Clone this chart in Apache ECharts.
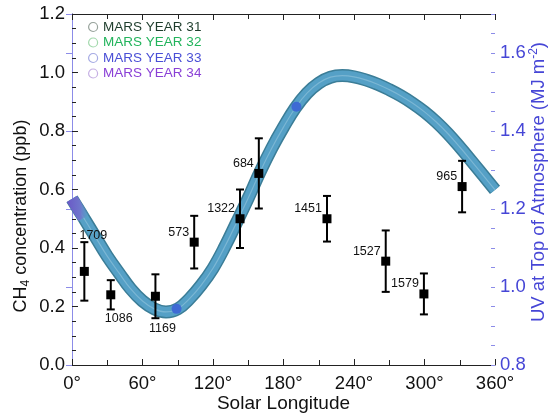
<!DOCTYPE html>
<html><head><meta charset="utf-8">
<script src="https://cdn.jsdelivr.net/npm/echarts@6/dist/echarts.min.js"></script>
<style>html,body{margin:0;padding:0;background:#fff}#c{width:548px;height:416px}</style>
</head><body><div id="c"></div>
<script>
// ---- data ----
const xTicks = [0, 60, 120, 180, 240, 300, 360];
const leftTicks = [0.0, 0.2, 0.4, 0.6, 0.8, 1.0, 1.2];
const rightTicks = [0.8, 1.0, 1.2, 1.4, 1.6];
const legendNames = ['MARS YEAR 31', 'MARS YEAR 32', 'MARS YEAR 33', 'MARS YEAR 34'];

// CH4 measurements (sol labels)
const chLabels = ['1709', '1086', '1169', '573', '1322', '684', '1451', '1527', '1579', '965'];
const chLs  = [10.5, 33, 71, 104, 143, 159, 217, 267, 299.5, 332];
const chVal = [0.32, 0.24, 0.235, 0.42, 0.50, 0.655, 0.50, 0.355, 0.243, 0.61];
const chErr = [0.10, 0.05, 0.075, 0.09, 0.10, 0.12, 0.078, 0.105, 0.07, 0.088];

// UV at top of atmosphere (MJ m^-2)
const uvLs  = [0,10,20,30,40,50,60,70,80,90,100,110,120,130,140,150,160,170,180,190,200,210,220,230,240,250,260,270,280,290,300,310,320,330,340,350,360];
const uvVal = [1.226,1.177,1.128,1.079,1.036,0.995,0.964,0.944,0.936,0.944,0.970,1.005,1.048,1.103,1.165,1.228,1.295,1.356,1.410,1.459,1.497,1.523,1.538,1.542,1.539,1.531,1.520,1.506,1.490,1.471,1.449,1.423,1.393,1.359,1.323,1.286,1.249];
// Mars year 33 highlighted samples
const my33Ls  = [89, 191];
const my33Val = [0.944, 1.462];
// Mars year 34 segment (first part of the curve)
const my34Ls  = uvLs.slice(0, 2);
const my34Val = uvVal.slice(0, 2);

// ---- styles ----
const FONT = 'Liberation Sans, Arial, Helvetica, sans-serif';
const legendColors = {
  'MARS YEAR 31': {icon: '#98a39c', text: '#1e3d2c'},
  'MARS YEAR 32': {icon: '#a3d9ad', text: '#22b45c'},
  'MARS YEAR 33': {icon: '#a6abe4', text: '#4a4fd6'},
  'MARS YEAR 34': {icon: '#c6b0e4', text: '#8a40d6'}
};
// label placement per sol label: [dx, dy, align]
const labelPlace = {
  '1709': [9, -36, 'center'], '1086': [8, 24, 'center'], '1169': [7, 32, 'center']
};

const zip = (a, b) => a.map((v, i) => [v, b[i]]);

const chart = echarts.init(document.getElementById('c'), null, {renderer: 'canvas'});

const option = {
  animation: false,
  backgroundColor: '#fff',
  textStyle: {fontFamily: FONT},
  grid: {left: 72, right: 53, top: 14, bottom: 51, containLabel: false, outerBoundsMode: 'none'},
  legend: {
    orient: 'vertical', left: 88, top: 20, padding: 0,
    itemWidth: 10, itemHeight: 9, itemGap: 1.5,
    selectedMode: false,
    textStyle: {fontSize: 13.5, fontFamily: FONT, lineHeight: 13},
    data: legendNames.map(n => ({
      name: n, icon: 'circle',
      itemStyle: {color: '#ffffff', borderColor: legendColors[n].icon, borderWidth: 1.2, opacity: 1},
      textStyle: {color: legendColors[n].text}
    }))
  },
  xAxis: [{
    type: 'value', min: xTicks[0], max: xTicks[xTicks.length - 1], interval: 60, position: 'bottom',
    name: 'Solar Longitude', nameLocation: 'middle', nameGap: 29, nameMoveOverlap: false,
    nameTextStyle: {fontSize: 19, color: '#111', fontFamily: FONT},
    axisLine: {show: true, lineStyle: {color: '#222', width: 1}},
    axisTick: {show: true, inside: true, length: 6, lineStyle: {color: '#222'}},
    minorTick: {show: true, splitNumber: 2, length: 5, lineStyle: {color: '#222'}},
    splitLine: {show: false},
    axisLabel: {formatter: v => v + '°', fontSize: 18.5, color: '#111', margin: 9, fontFamily: FONT}
  }, {
    type: 'value', min: xTicks[0], max: xTicks[xTicks.length - 1], interval: 60, position: 'top',
    axisLine: {show: true, lineStyle: {color: '#222', width: 1}},
    axisTick: {show: true, inside: true, length: 6, lineStyle: {color: '#222'}},
    minorTick: {show: true, splitNumber: 2, length: 5, lineStyle: {color: '#222'}},
    splitLine: {show: false},
    axisLabel: {show: false}
  }],
  yAxis: [{
    type: 'value', min: leftTicks[0], max: leftTicks[leftTicks.length - 1], interval: 0.2, position: 'left',
    axisLine: {show: true, lineStyle: {color: '#222', width: 1}},
    axisTick: {show: true, inside: true, length: 6, lineStyle: {color: '#222'}},
    minorTick: {show: true, splitNumber: 4, length: 4, lineStyle: {color: '#222'}},
    splitLine: {show: false},
    axisLabel: {formatter: v => v.toFixed(1), fontSize: 18.5, color: '#111', margin: 7, fontFamily: FONT}
  }, {
    type: 'value', min: rightTicks[0], max: 1.7, interval: 0.2, position: 'right',
    axisLine: {show: true, lineStyle: {color: '#8c8ce8', width: 1}},
    axisTick: {show: true, inside: true, length: 6, lineStyle: {color: '#8c8ce8'}},
    splitLine: {show: false},
    axisLabel: {
      formatter: v => (rightTicks.some(t => Math.abs(t - v) < 1e-6) ? v.toFixed(1) : ''),
      fontSize: 18.5, color: '#4646d6', margin: 5, fontFamily: FONT
    }
  }, {
    type: 'value', min: rightTicks[0], max: 1.7, interval: 0.05, position: 'right',
    axisLine: {show: false},
    axisTick: {show: true, inside: true, length: 4, lineStyle: {color: '#8c8ce8'}},
    splitLine: {show: false},
    axisLabel: {show: false}
  }],
  graphic: [{
    type: 'text', x: 21, y: 216, rotation: Math.PI / 2,
    style: {
      text: '{a|CH}{s|4}{a| concentration (ppb)}',
      rich: {
        a: {fontSize: 18, fontFamily: FONT, fill: '#111', lineHeight: 22},
        s: {fontSize: 12, fontFamily: FONT, fill: '#111', lineHeight: 10, verticalAlign: 'bottom'}
      },
      align: 'center', verticalAlign: 'middle'
    }
  }, {
    type: 'text', x: 539, y: 182, rotation: Math.PI / 2,
    style: {
      text: '{a|UV at Top of Atmosphere (MJ m}{p|-2}{a|)}',
      rich: {
        a: {fontSize: 18.5, fontFamily: FONT, fill: '#4646d6', lineHeight: 22},
        p: {fontSize: 12, fontFamily: FONT, fill: '#4646d6', lineHeight: 12, verticalAlign: 'top'}
      },
      align: 'center', verticalAlign: 'middle'
    }
  }],
  series: [{
    name: 'MARS YEAR 31', type: 'line', xAxisIndex: 0, yAxisIndex: 1,
    data: zip(uvLs, uvVal), smooth: 0.4, symbol: 'none', z: 2,
    lineStyle: {width: 13, color: '#3b7d97', cap: 'butt'}
  }, {
    name: 'MARS YEAR 32', type: 'line', xAxisIndex: 0, yAxisIndex: 1,
    data: zip(uvLs, uvVal), smooth: 0.4, symbol: 'none', z: 3,
    lineStyle: {width: 10, color: '#55a0c6', cap: 'butt'}
  }, {
    name: 'highlight', type: 'line', xAxisIndex: 0, yAxisIndex: 1,
    data: zip(uvLs, uvVal), smooth: 0.4, symbol: 'none', z: 3,
    lineStyle: {width: 1.2, color: '#a8d0e4', opacity: 0.45}
  }, {
    name: 'MARS YEAR 34', type: 'line', xAxisIndex: 0, yAxisIndex: 1,
    data: zip(my34Ls, my34Val), symbol: 'none', z: 4,
    lineStyle: {
      width: 12, cap: 'butt',
      color: new echarts.graphic.LinearGradient(0, 0, 1, 0, [
        {offset: 0, color: '#6a56c6'}, {offset: 0.6, color: '#6f76cc'}, {offset: 1, color: 'rgba(85,160,198,0.2)'}
      ])
    }
  }, {
    name: 'MARS YEAR 33', type: 'line', xAxisIndex: 0, yAxisIndex: 1,
    data: [], symbol: 'none', lineStyle: {color: '#3e6ad4'}
  }, {
    name: 'my33dots', type: 'scatter', xAxisIndex: 0, yAxisIndex: 1,
    data: zip(my33Ls, my33Val), symbol: 'circle', symbolSize: 10, z: 5,
    itemStyle: {color: '#3e6ad4', opacity: 1}
  }, {
    name: 'errors', type: 'custom', xAxisIndex: 0, yAxisIndex: 0, z: 6,
    data: chLs.map((x, i) => [x, chVal[i] - chErr[i], chVal[i] + chErr[i]]),
    renderItem: (params, api) => {
      const lo = api.coord([api.value(0), api.value(1)]);
      const hi = api.coord([api.value(0), api.value(2)]);
      const w = 4;
      const st = {stroke: '#000', lineWidth: 2};
      return {type: 'group', children: [
        {type: 'line', shape: {x1: lo[0], y1: lo[1], x2: hi[0], y2: hi[1]}, style: st},
        {type: 'line', shape: {x1: lo[0] - w, y1: lo[1], x2: lo[0] + w, y2: lo[1]}, style: st},
        {type: 'line', shape: {x1: hi[0] - w, y1: hi[1], x2: hi[0] + w, y2: hi[1]}, style: st}
      ]};
    }
  }, {
    name: 'CH4', type: 'scatter', xAxisIndex: 0, yAxisIndex: 0, z: 7,
    data: chLs.map((x, i) => ({
      value: [x, chVal[i]],
      label: (function () {
        const p = labelPlace[chLabels[i]] || [-5, -10, 'right'];
        return {offset: [p[0], p[1]], align: p[2]};
      })()
    })),
    symbol: 'rect', symbolSize: 9,
    itemStyle: {color: '#000', opacity: 1},
    label: {
      show: true, position: 'inside', verticalAlign: 'middle',
      formatter: p => chLabels[p.dataIndex],
      fontSize: 12.5, color: '#111', fontFamily: FONT
    }
  }]
};
chart.setOption(option);
</script></body></html>
